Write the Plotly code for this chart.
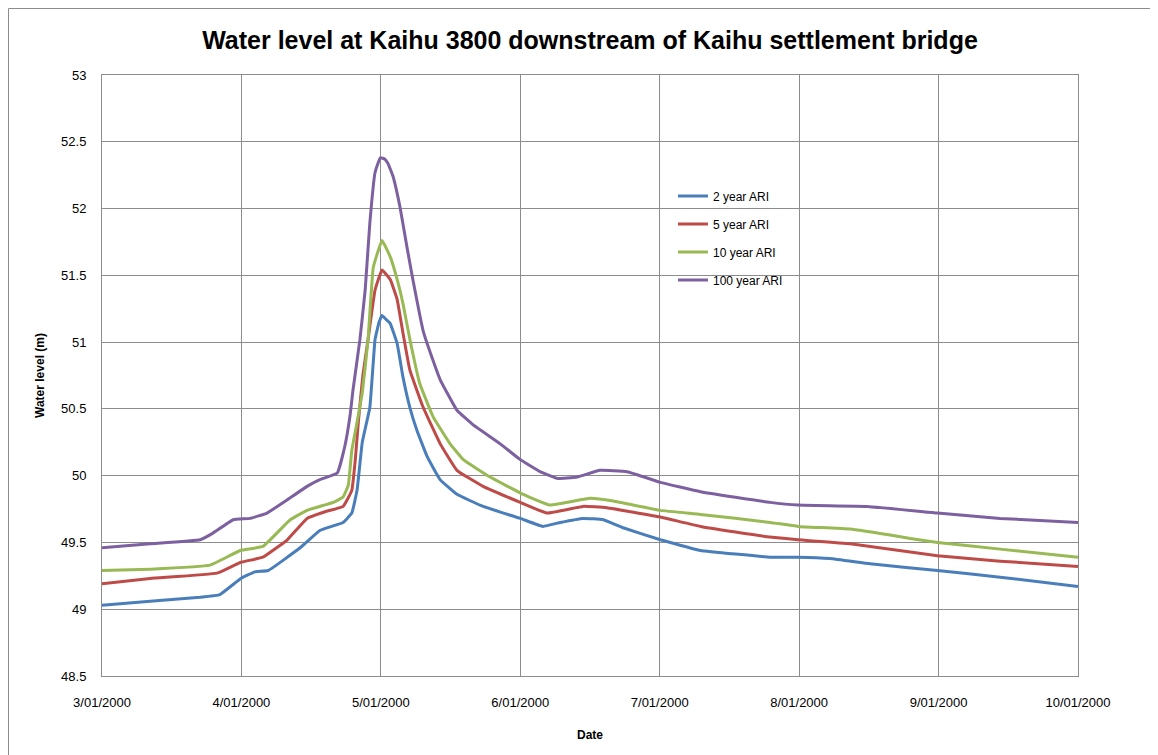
import pandas as pd
import plotly.graph_objects as go

# Hours after 3/01/2000 00:00 and water level (m) for each design event
hours_2yr = [0, 8.3, 16.9, 20.3, 23.9, 26.3, 28.6, 34.1, 37.5, 41.5, 43.0, 43.9, 44.8, 46.1, 47.0,
             47.7, 48.2, 48.9, 49.6, 50.8, 51.8, 53.0, 54.2, 56.0, 58.2, 61.1, 65.6, 72.0, 75.9,
             78.9, 82.8, 86.3, 89.7, 96.1, 103.0, 115.0, 119.8, 125.3, 132.2, 143.8, 154.6, 168.0]
level_2yr = [49.03, 49.06, 49.09, 49.11, 49.23, 49.28, 49.29, 49.46, 49.59, 49.65, 49.72, 49.89, 50.25, 50.51, 51.02,
             51.15, 51.20, 51.17, 51.14, 50.99, 50.74, 50.51, 50.34, 50.14, 49.97, 49.86, 49.77, 49.68, 49.62,
             49.65, 49.68, 49.67, 49.61, 49.52, 49.44, 49.39, 49.39, 49.38, 49.34, 49.29, 49.24, 49.17]

hours_5yr = [0, 8.3, 19.8, 23.8, 27.7, 31.9, 35.3, 38.4, 41.5, 43.0, 43.6, 44.1, 44.9, 45.8, 47.0,
             48.2, 49.6, 50.8, 51.8, 53.0, 55.3, 58.2, 61.1, 65.6, 72.0, 76.6, 82.8, 86.9, 96.1,
             103.0, 115.0, 119.8, 128.8, 143.8, 154.6, 168.0]
level_5yr = [49.19, 49.23, 49.27, 49.35, 49.39, 49.52, 49.68, 49.73, 49.77, 49.89, 50.12, 50.39, 50.75, 51.02, 51.39,
             51.54, 51.47, 51.32, 51.07, 50.79, 50.51, 50.24, 50.04, 49.92, 49.80, 49.72, 49.77, 49.76, 49.69,
             49.62, 49.54, 49.52, 49.49, 49.40, 49.36, 49.32]

hours_10yr = [0, 8.3, 18.6, 23.8, 27.7, 32.4, 35.3, 39.8, 41.5, 42.4, 43.0, 43.9, 44.8, 45.8, 46.7,
              48.2, 49.6, 50.8, 51.8, 53.0, 54.7, 57.0, 59.9, 62.2, 66.8, 72.5, 77.1, 84.0, 88.0,
              96.1, 103.0, 115.0, 119.8, 128.8, 143.8, 154.6, 168.0]
level_10yr = [49.29, 49.30, 49.33, 49.44, 49.47, 49.67, 49.74, 49.80, 49.84, 49.93, 50.19, 50.40, 50.62, 51.02, 51.56,
              51.76, 51.64, 51.47, 51.29, 51.02, 50.69, 50.44, 50.24, 50.12, 49.99, 49.86, 49.78, 49.83, 49.81,
              49.74, 49.71, 49.65, 49.62, 49.60, 49.50, 49.45, 49.39]

hours_100yr = [0, 8.3, 16.9, 19.1, 22.6, 25.5, 28.4, 31.9, 35.3, 37.5, 40.5, 41.8, 42.7, 43.2, 44.4,
               45.3, 46.1, 47.0, 47.9, 48.7, 49.2, 50.1, 51.3, 52.5, 53.5, 55.3, 57.0, 58.2, 61.1,
               63.9, 68.5, 72.0, 75.4, 78.3, 81.8, 85.7, 90.4, 96.1, 103.0, 115.0, 119.8, 131.7,
               143.8, 154.6, 168.0]
level_100yr = [49.46, 49.49, 49.52, 49.57, 49.67, 49.68, 49.72, 49.82, 49.92, 49.97, 50.02, 50.22, 50.45, 50.64, 51.02,
               51.39, 51.89, 52.27, 52.38, 52.37, 52.34, 52.24, 52.01, 51.71, 51.47, 51.08, 50.86, 50.72, 50.49,
               50.38, 50.24, 50.12, 50.03, 49.98, 49.99, 50.04, 50.03, 49.95, 49.88, 49.80, 49.78, 49.77,
               49.72, 49.68, 49.65]

series_names = ["2 year ARI", "5 year ARI", "10 year ARI", "100 year ARI"]
series_colors = ["#4A7EBB", "#BE4B48", "#98B954", "#7D60A0"]

tick_dates = ["2000-01-03", "2000-01-04", "2000-01-05", "2000-01-06",
              "2000-01-07", "2000-01-08", "2000-01-09", "2000-01-10"]
tick_labels = ["3/01/2000", "4/01/2000", "5/01/2000", "6/01/2000",
               "7/01/2000", "8/01/2000", "9/01/2000", "10/01/2000"]

start = pd.Timestamp("2000-01-03")
all_hours = [hours_2yr, hours_5yr, hours_10yr, hours_100yr]
all_levels = [level_2yr, level_5yr, level_10yr, level_100yr]

FONT = "Liberation Sans"
GRID = "#8C8C8C"

fig = go.Figure()
for name, color, hrs, lev in zip(series_names, series_colors, all_hours, all_levels):
    t = [start + pd.Timedelta(hours=h) for h in hrs]
    fig.add_trace(go.Scatter(x=t, y=lev, mode="lines", name=name, legendgroup=name,
                             line=dict(color=color, width=3, shape="spline", smoothing=0.3)))

fig.update_layout(
    width=1150, height=747,
    paper_bgcolor="white", plot_bgcolor="white",
    margin=dict(l=94, r=80, t=67, b=79),
    font=dict(family=FONT, size=13, color="black"),
    title=dict(text="<b>Water level at Kaihu 3800 downstream of Kaihu settlement bridge</b>",
               x=0.5, xanchor="center", xref="paper", y=1 - 32 / 747, yanchor="middle",
               font=dict(family=FONT, size=25, color="black")),
    showlegend=True,
    legend=dict(x=0.585, y=0.823, xanchor="left", yanchor="top", bgcolor="rgba(0,0,0,0)",
                font=dict(family=FONT, size=12, color="black"), tracegroupgap=9,
                itemwidth=30),
    xaxis=dict(range=[start, start + pd.Timedelta(days=7)], tickmode="array",
               tickvals=tick_dates, ticktext=tick_labels, showgrid=True, gridcolor=GRID,
               gridwidth=1, showline=True, linecolor=GRID, linewidth=1, mirror=True,
               ticks="", ticklabelstandoff=14,
               title=dict(text="<b>Date</b>", font=dict(family=FONT, size=12), standoff=22),
               zeroline=False),
    yaxis=dict(range=[48.5, 53], dtick=0.5, tick0=48.5, showgrid=True, gridcolor=GRID,
               gridwidth=1, showline=True, linecolor=GRID, linewidth=1, mirror=True,
               ticks="", ticklabelstandoff=12,
               title=dict(text="<b>Water level (m)</b>", font=dict(family=FONT, size=12), standoff=13),
               zeroline=False),
    shapes=[dict(type="rect", xref="paper", yref="paper", x0=-93.5 / 976, x1=(1148 - 94) / 976,
                 y0=-0.3, y1=(668 - 0.5) / 601, line=dict(color="#8C8C8C", width=1), layer="below")],
)

fig.write_html("out.html")
